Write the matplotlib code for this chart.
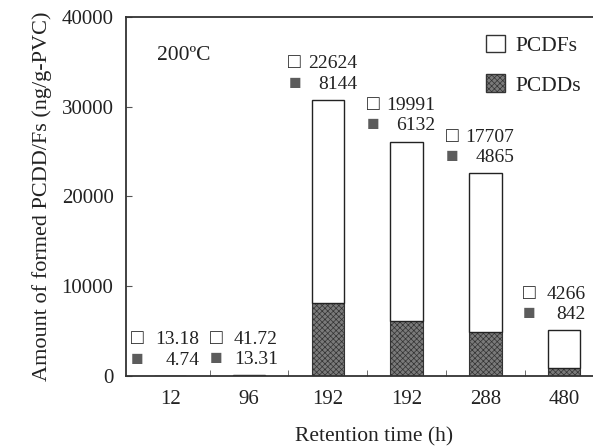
import numpy as np
import matplotlib.pyplot as plt
from matplotlib.patches import Patch

# data
times = ['12', '96', '192', '192', '288', '480']
pcdd = [4.74, 13.31, 8144, 6132, 4865, 842]
pcdf = [13.18, 41.72, 22624, 19991, 17707, 4266]
pcdd_lbl = ['4.74', '13.31', '8144', '6132', '4865', '842']
pcdf_lbl = ['13.18', '41.72', '22624', '19991', '17707', '4266']

plt.rcParams['font.family'] = ['Liberation Serif', 'DejaVu Sans']
plt.rcParams['hatch.linewidth'] = 0.5
plt.rcParams['hatch.color'] = '#3a3a3a'

fig = plt.figure(figsize=(5.93, 4.46), dpi=100)
ax = fig.add_axes([0.2125, 0.157, 0.80, 0.805])

x = np.arange(len(times))
w = 0.41
dark = '#7a7a7a'
txt = '#222222'
ax.bar(x, pcdd, w, color=dark, edgecolor='#333333', hatch='xxxxxx', linewidth=0.8)
ax.bar(x, pcdf, w, bottom=pcdd, color='white', edgecolor='#222222', linewidth=1.0)

# value labels above each bar: square symbol on the left, number right-aligned
for i in range(len(x)):
    top = pcdd[i] + pcdf[i]
    dx = 0.37 if i < len(x) - 1 else 0.27
    sx = -0.42 if i < len(x) - 1 else -0.44
    ax.text(x[i] + sx, top + 4000, '\u25a1', ha='center', va='center',
            fontsize=15, color=txt)
    ax.text(x[i] + dx, top + 4000, pcdf_lbl[i], ha='right', va='center',
            fontsize=14, color=txt)
    ax.text(x[i] + sx, top + 1750, '\u25a0', ha='center', va='center',
            fontsize=15, color='#5c5c5c')
    ax.text(x[i] + dx, top + 1750, pcdd_lbl[i], ha='right', va='center',
            fontsize=14, color=txt)

ax.text(0.066, 0.894, '200\u00baC', transform=ax.transAxes, va='center',
        fontsize=15.5, color=txt)

handles = [Patch(facecolor='white', edgecolor='#333333', label='PCDFs'),
           Patch(facecolor=dark, edgecolor='#333333', hatch='xxxxxx', label='PCDDs')]
ax.legend(handles=handles, loc='upper right', bbox_to_anchor=(1.0, 1.005), frameon=False,
          fontsize=15.5, handlelength=0.85, handleheight=0.9, labelspacing=0.85,
          handletextpad=0.5, labelcolor=txt)

ax.set_xlim(-0.56, 5.46)
ax.set_ylim(0, 40000)
ax.set_yticks([0, 10000, 20000, 30000, 40000])
ax.set_xticks(x)
ax.set_xticklabels(times)
ax.set_xticks(x[:-1] + 0.5, minor=True)
ax.tick_params(axis='x', which='major', length=0, pad=10, labelsize=15, labelcolor=txt)
ax.tick_params(axis='x', which='minor', direction='in', length=4, color='#555555')
ax.tick_params(axis='y', direction='in', length=4, pad=9, labelsize=15, labelcolor=txt,
               color='#555555')

for s in ax.spines.values():
    s.set_linewidth(1.3)
    s.set_color('#333333')
ax.spines['right'].set_visible(False)

ax.set_xlabel('Retention time (h)', fontsize=15.5, color=txt)
ax.xaxis.set_label_coords(0.523, -0.143)
ax.set_ylabel('Amount of formed PCDD/Fs (ng/g-PVC)', fontsize=16, labelpad=7, color=txt)

fig.savefig('out.png', dpi=100)
